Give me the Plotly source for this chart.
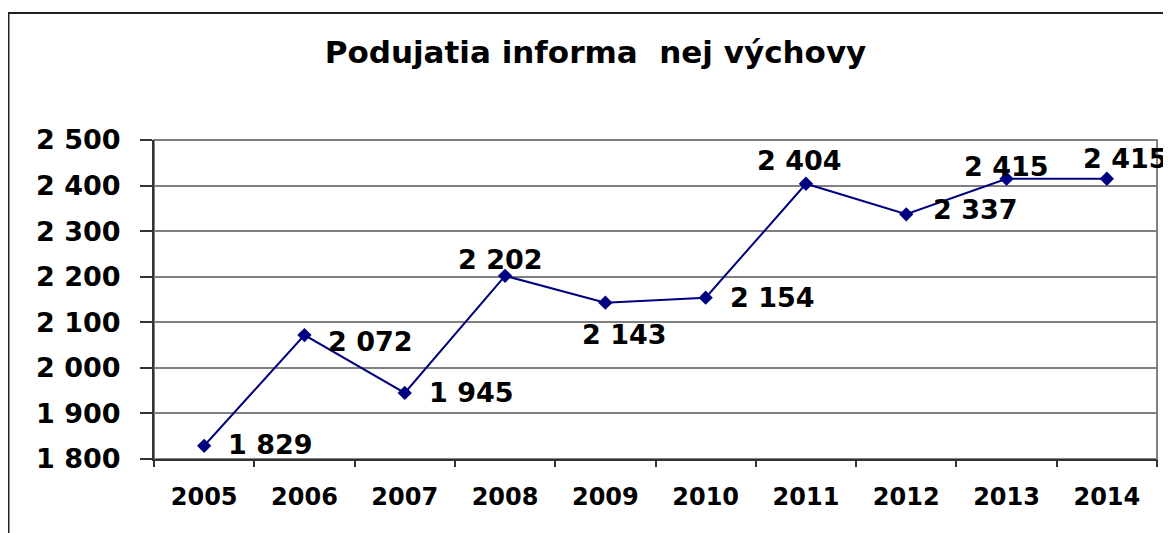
import plotly.graph_objects as go

years = ["2005", "2006", "2007", "2008", "2009", "2010", "2011", "2012", "2013", "2014"]
values = [1829, 2072, 1945, 2202, 2143, 2154, 2404, 2337, 2415, 2415]
title_text = "Podujatia informa  nej výchovy"
y_ticks = [1800, 1900, 2000, 2100, 2200, 2300, 2400, 2500]

# label placement (style): (xanchor, xshift, yshift)
label_pos = [
    ("left", 22, 1),
    ("left", 22, -6),
    ("left", 22, 0),
    ("center", -5, 16),
    ("center", 19, -32),
    ("left", 22, 0),
    ("center", -6, 23),
    ("left", 25, 5),
    ("center", 0, 12),
    ("center", 19, 20),
]

def fmt(v):
    return f"{v:,}".replace(",", " ")

FONT = "DejaVu Sans"

fig = go.Figure()
fig.add_trace(go.Scatter(
    x=list(range(len(years))), y=values, mode="lines+markers",
    line=dict(color="#000080", width=2),
    marker=dict(symbol="diamond", size=11, color="#000080"),
    hoverinfo="skip", showlegend=False,
))

for i, (v, (xa, xs, ys)) in enumerate(zip(values, label_pos)):
    fig.add_annotation(
        x=i, y=v, text=fmt(v), showarrow=False,
        xanchor=xa, yanchor="middle", xshift=xs, yshift=ys,
        font=dict(family=FONT, size=27, color="black", weight="bold"),
    )

W, H = 1163, 525
L, R, T, B = 146, 14, 132, 74
pw = W - L - R
ph = H - T - B

def px2paper_x(px):
    return (px - L) / pw

def px2paper_y(py):
    return (H - B - py) / ph

# outer chart frame
fig.add_shape(type="rect", xref="paper", yref="paper",
              x0=px2paper_x(0.5), x1=px2paper_x(1200),
              y0=px2paper_y(560), y1=px2paper_y(5),
              line=dict(color="#222222", width=2), layer="below")
# plot area border (gray)
fig.add_shape(type="rect", xref="paper", yref="paper",
              x0=0, x1=1, y0=0, y1=1,
              line=dict(color="#808080", width=2), layer="below")

fig.update_layout(
    width=W, height=H,
    margin=dict(l=L, r=R, t=T, b=B),
    paper_bgcolor="white", plot_bgcolor="white",
    separators=", ",
    title=dict(text=title_text, x=587.5 / W, xanchor="center",
               y=1 - 44 / H, yanchor="middle",
               font=dict(family=FONT, size=31, color="black", weight="bold")),
    xaxis=dict(
        tickmode="array", tickvals=list(range(len(years))), ticktext=years,
        showline=True, linecolor="#333333", linewidth=2,
        ticks="", showgrid=False, ticklabelstandoff=15,
        tickfont=dict(family=FONT, size=24, color="black", weight="bold"),
        range=[-0.5, len(years) - 0.5], fixedrange=True, zeroline=False,
    ),
    xaxis2=dict(
        overlaying="x", matches="x", tickmode="array",
        tickvals=[i - 0.5 for i in range(len(years) + 1)],
        ticks="outside", ticklen=7, tickwidth=1.5, tickcolor="#333333",
        showticklabels=False, showgrid=False, showline=False,
        range=[-0.5, len(years) - 0.5], zeroline=False,
    ),
    yaxis=dict(
        range=[1800, 2500], tickvals=y_ticks, tickformat=",d",
        ticks="outside", ticklen=12, tickwidth=1.5, tickcolor="#333333",
        showline=True, linecolor="#333333", linewidth=2,
        showgrid=True, gridcolor="#808080", gridwidth=1.5, zeroline=False,
        ticklabelstandoff=14,
        tickfont=dict(family=FONT, size=27, color="black", weight="bold"),
        fixedrange=True,
    ),
)
# invisible trace to activate the boundary-tick axis
fig.add_trace(go.Scatter(x=[0], y=[None], xaxis="x2", yaxis="y",
                         mode="markers", showlegend=False, hoverinfo="skip"))

fig.write_html("out.html")
